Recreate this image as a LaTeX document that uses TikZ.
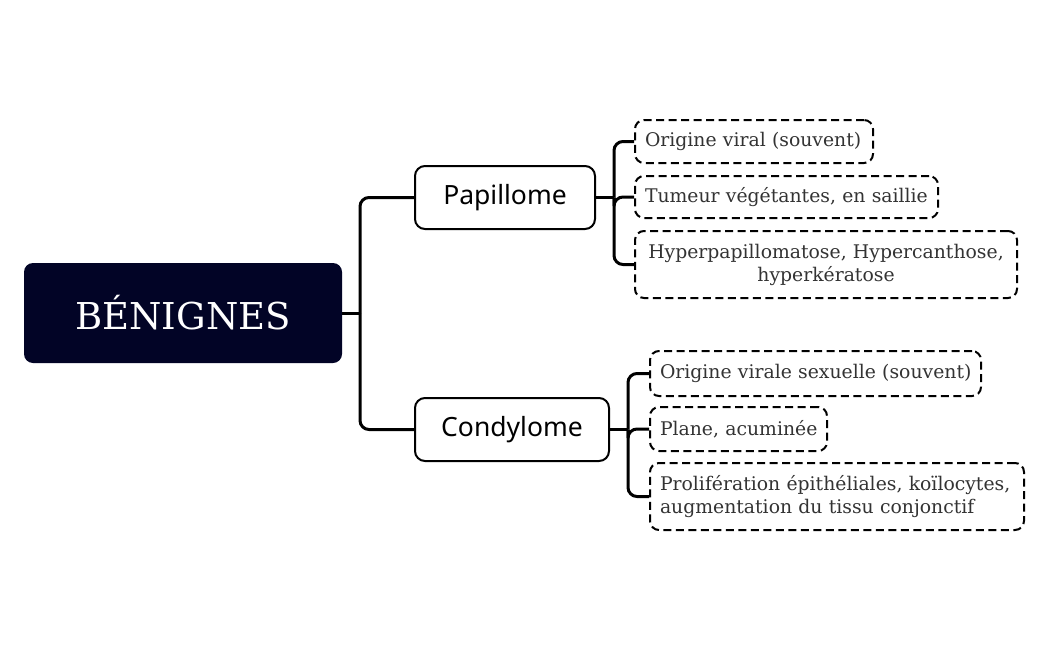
\documentclass[tikz,border=0pt]{standalone}
\usepackage{fontspec}
\setmainfont{DejaVu Serif}
\newfontfamily\labsans{Noto Sans}
\definecolor{navy}{HTML}{020426}
\definecolor{txt}{HTML}{333333}
\begin{document}
\begin{tikzpicture}[x=1pt,y=-1pt,
  rootbox/.style={draw=none,fill=navy,rounded corners=9pt,text=white,minimum width=318pt,minimum height=100pt,inner sep=0pt,font=\fontsize{37}{44}\selectfont},
  midbox/.style={draw=black,line width=2pt,rounded corners=10pt,fill=white,minimum height=63pt,inner sep=0pt,font=\labsans\fontsize{26.5}{30}\selectfont},
  leafbox/.style={draw=black,line width=2pt,dash pattern=on 8pt off 4.5pt,rounded corners=9pt,fill=white,inner xsep=10pt,inner ysep=0pt,anchor=west,text=txt,align=left,font=\fontsize{18.8}{23}\selectfont},
  conn/.style={line width=3pt,rounded corners=9pt}]
\useasboundingbox (0,0) rectangle (1048,650);
\node[rootbox] (root) at (183,313) {BÉNIGNES};
\node[midbox,minimum width=180pt] (pap) at (505,197.5) {Papillome};
\node[midbox,minimum width=194pt] (con) at (512,429.5) {Condylome};
\node[leafbox,minimum height=43pt,text width=218pt] (p1) at (634,141.5) {\mbox{Origine viral (souvent)}};
\node[leafbox,minimum height=42pt,text width=283pt] (p2) at (634,197) {\mbox{Tumeur végétantes, en saillie}};
\node[leafbox,minimum height=67pt,text width=362pt,align=center] (p3) at (634,264.5) {Hyperpapillomatose, Hypercanthose,\\hyperkératose};
\node[leafbox,minimum height=45pt,text width=311pt] (c1) at (649,373.5) {\mbox{Origine virale sexuelle (souvent)}};
\node[leafbox,minimum height=44pt,text width=157pt] (c2) at (649,429) {\mbox{Plane, acuminée}};
\node[leafbox,minimum height=67pt,text width=354pt] (c3) at (649,496.5) {Prolifération épithéliales, koïlocytes,\\augmentation du tissu conjonctif};
\coordinate (j0) at (360,313);
\coordinate (j1) at (614,197.5);
\coordinate (j2) at (628,429.5);
\draw[conn] (root.east) -- (j0);
\draw[conn] (j0) |- (pap.west);
\draw[conn] (j0) |- (con.west);
\draw[conn] (pap.east) -- (j1);
\draw[conn] (j1) |- (p1.west);
\draw[conn] (j1) |- (p2.west);
\draw[conn] (j1) |- (p3.west);
\draw[conn] (con.east) -- (j2);
\draw[conn] (j2) |- (c1.west);
\draw[conn] (j2) |- (c2.west);
\draw[conn] (j2) |- (c3.west);
\end{tikzpicture}
\end{document}
